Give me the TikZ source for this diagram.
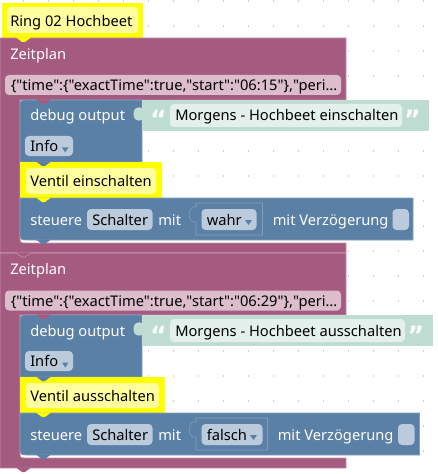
\documentclass[tikz,border=0pt]{standalone}
\usepackage{fontspec}
\newfontfamily\nsans{Noto Sans}
\newfontfamily\qfont{DejaVu Sans}
\definecolor{cPurple}{HTML}{A55B80}
\definecolor{cPurpleL}{HTML}{C590AB}
\definecolor{cJson}{HTML}{DBBDCC}
\definecolor{cBlue}{HTML}{5B80A5}
\definecolor{cBlueL}{HTML}{809DBB}
\definecolor{cField}{HTML}{BCCBDB}
\definecolor{cTeal}{HTML}{BFDCD3}
\definecolor{cTealF}{HTML}{E3F0EC}
\definecolor{cYel}{HTML}{FFFF00}
\definecolor{cYelI}{HTML}{FFFF9E}
\definecolor{cDot}{HTML}{A0A0A0}
\begin{document}
\begin{tikzpicture}[x=0.75pt,y=-0.75pt,
  font=\nsans\fontsize{11}{13}\selectfont,
  purp/.style={fill=cPurple,draw=cPurpleL,line width=0.5pt},
  blueblk/.style={fill=cBlue,draw=cBlueL,line width=0.45pt},
  fld/.style={rounded corners=3pt},
  wtxt/.style={text=white,anchor=base west,inner sep=0pt},
  btxt/.style={text=black,anchor=base west,inner sep=0pt},
  qt/.style={text=white!94!cTeal,anchor=base,inner sep=0pt,font=\qfont\fontsize{19}{19}\bfseries\selectfont}]
\useasboundingbox (0,0) rectangle (437,474);
% grid dots
\foreach \i in {0,...,16} \foreach \j in {0,...,18}
  \fill[cDot] ({23.5+25*\i},{1+25*\j}) circle (0.45pt);

% ================= comment 1
\fill[cYel] (2,3) rectangle (143,38);
\fill[cYelI,fld] (7,7) rectangle (138,33);
\node[btxt] (c1) at (10,26.5) {Ring 02 Hochbeet};

% ================= block 1
\path[purp] (0,38) -- (346,38) -- (346,100) -- (20,100) -- (20,236) .. controls (20,243) .. (27,243) -- (346,243) -- (346,253) -- (0,253) -- cycle;
\node[wtxt] (z1) at (10,59.5) {Zeitplan};
\fill[cJson,fld] (5,75) rectangle (341,95);
\node[btxt] (j1) at (10.5,90.5) {\{"time":\{"exactTime":true,"start":"06:15"\},"peri…};

% debug 1
\path[blueblk] (20,162) -- (20,108) .. controls (20,100) .. (28,100) -- (142,100) -- (142,162) -- cycle;
\node[wtxt] (d1) at (30,121) {debug output};
\fill[cTeal] (142,100) rectangle (429,131);
\fill[cTeal] (142.5,108) .. controls (137,106) and (133,109) .. (133.5,114) .. controls (133,119) and (137,122) .. (142.5,120) -- cycle;
\fill[cTealF,fld] (170,104) rectangle (402,127);
\node[qt] (q1a) at (158.5,129) {“};
\node[btxt] (t1) at (175,121) {Morgens - Hochbeet einschalten};
\node[qt] (q1b) at (412.5,129) {”};
\fill[cField,fld] (25,136) rectangle (73,156);
\node[btxt] (i1) at (30,151.5) {Info};
\fill[cBlue] (62,147.5) -- (68.5,147.5) -- (65.25,152.5) -- cycle;

% comment Ventil 1
\fill[cYel] (20,162) rectangle (162,198);
\fill[cYelI,fld] (26,168) rectangle (156,194);
\node[btxt] (v1) at (30,186) {Ventil einschalten};

% steuere 1
\path[blueblk] (20,198) -- (413,198) -- (413,240) -- (28,240) .. controls (20,240) .. (20,232) -- cycle;
\node[wtxt] (s1) at (30,225) {steuere};
\fill[cField,fld] (87,209) rectangle (152.5,230);
\node[btxt] (sc1) at (92,225) {Schalter};
\node[wtxt] (m1) at (158,225) {mit};
\path[blueblk] (196,203) -- (262.5,203) -- (262.5,235) -- (196,235) -- (196,222) .. controls (187,225) and (187,204) .. (196,207) -- cycle;
\fill[cField,fld] (201.5,209) rectangle (256.5,230);
\node[btxt] (w1) at (206.5,225) {wahr};
\fill[cBlue] (245,220) -- (252,220) -- (248.5,225) -- cycle;
\node[wtxt] (mv1) at (272.5,225) {mit Verzögerung};
\fill[cField,fld] (392.5,209) rectangle (409,230);

% ================= block 2
\path[purp] (0,253) -- (346,253) -- (346,315) -- (20,315) -- (20,451) .. controls (20,458) .. (27,458) -- (346,458) -- (346,468) -- (0,468) -- cycle;
\node[wtxt] (z2) at (10,274.5) {Zeitplan};
\fill[cJson,fld] (5,290.5) rectangle (341,310.5);
\node[btxt] (j2) at (10.5,306) {\{"time":\{"exactTime":true,"start":"06:29"\},"peri…};

% debug 2
\path[blueblk] (20,377) -- (20,323) .. controls (20,315) .. (28,315) -- (142,315) -- (142,377) -- cycle;
\node[wtxt] (d2) at (30,336) {debug output};
\fill[cTeal] (142,315) rectangle (433,346);
\fill[cTeal] (142.5,323) .. controls (137,321) and (133,324) .. (133.5,329) .. controls (133,334) and (137,337) .. (142.5,335) -- cycle;
\fill[cTealF,fld] (170,319) rectangle (405,342);
\node[qt] (q2a) at (158.5,344) {“};
\node[btxt] (t2) at (175,336) {Morgens - Hochbeet ausschalten};
\node[qt] (q2b) at (416,344) {”};
\fill[cField,fld] (25,351) rectangle (73,371);
\node[btxt] (i2) at (30,366.5) {Info};
\fill[cBlue] (62,362.5) -- (68.5,362.5) -- (65.25,367.5) -- cycle;

% comment Ventil 2
\fill[cYel] (20,377) rectangle (165,413);
\fill[cYelI,fld] (26,383) rectangle (159,408);
\node[btxt] (v2) at (30,401) {Ventil ausschalten};

% steuere 2
\path[blueblk] (20,413) -- (419.5,413) -- (419.5,455) -- (28,455) .. controls (20,455) .. (20,447) -- cycle;
\node[wtxt] (s2) at (30,440) {steuere};
\fill[cField,fld] (87,424) rectangle (152.5,445);
\node[btxt] (sc2) at (92,440) {Schalter};
\node[wtxt] (m2) at (158,440) {mit};
\path[blueblk] (196,418) -- (267.5,418) -- (267.5,450) -- (196,450) -- (196,437) .. controls (187,440) and (187,419) .. (196,422) -- cycle;
\fill[cField,fld] (201.5,424) rectangle (262.5,445);
\node[btxt] (f2) at (206.5,440) {falsch};
\fill[cBlue] (250,435) -- (257,435) -- (253.5,440) -- cycle;
\node[wtxt] (mv2) at (277.5,440) {mit Verzögerung};
\fill[cField,fld] (398,424) rectangle (414.5,445);

% ================= notches / tabs
\fill[cYel] (16,37.5) -- (22,42) -- (25,42) -- (31,37.5) -- cycle;
\fill[cPurple] (36,99.5) -- (42,104) -- (45,104) -- (51,99.5) -- cycle;
\fill[cBlue] (36,161.5) -- (42,166) -- (45,166) -- (51,161.5) -- cycle;
\fill[cYel] (36,197.5) -- (42,202) -- (45,202) -- (51,197.5) -- cycle;
\fill[cBlue] (36,239.5) -- (42,244) -- (45,244) -- (51,239.5) -- cycle;
\fill[cPurple] (16,252.5) -- (22,257) -- (25,257) -- (31,252.5) -- cycle;
\draw[cPurpleL,line width=0.5pt] (0,253) -- (16,253) -- (22,257) -- (25,257) -- (31,253) -- (346,253);
\fill[cPurple] (36,314.5) -- (42,319) -- (45,319) -- (51,314.5) -- cycle;
\fill[cBlue] (36,376.5) -- (42,381) -- (45,381) -- (51,376.5) -- cycle;
\fill[cYel] (36,412.5) -- (42,417) -- (45,417) -- (51,412.5) -- cycle;
\fill[cBlue] (36,454.5) -- (42,459) -- (45,459) -- (51,454.5) -- cycle;
\fill[cPurple] (16,467.5) -- (22,472) -- (25,472) -- (31,467.5) -- cycle;
\end{tikzpicture}
\end{document}
